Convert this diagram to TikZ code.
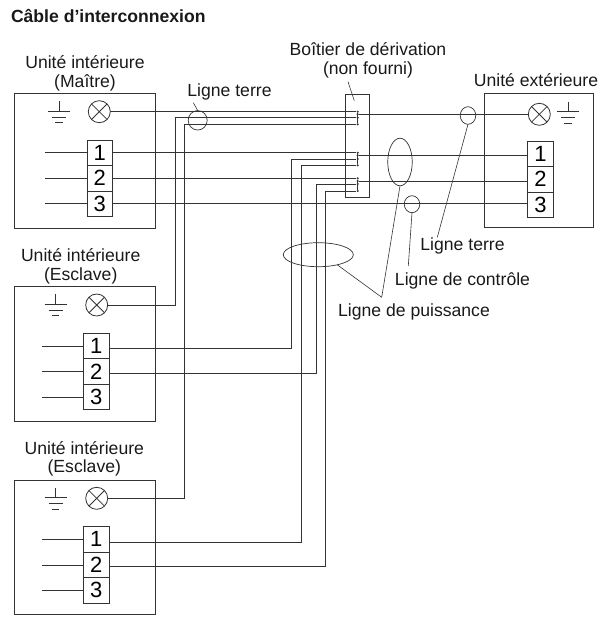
\documentclass[tikz,border=0pt]{standalone}
\usepackage{fontspec}
\setmainfont{Liberation Sans}
\usetikzlibrary{positioning,shapes.geometric}
\definecolor{wirecol}{gray}{0.2}
\tikzset{x=1pt,y=-1pt,
wire/.style={draw=wirecol,line width=0.8pt},
leader/.style={draw=wirecol,line width=0.6pt},
lbl/.style={font=\fontsize{17.6}{18.5}\selectfont,inner sep=0pt,outer sep=0pt,text=black!90,align=center,anchor=base},
unitbox/.style={draw=wirecol,line width=0.9pt,anchor=north west,inner sep=0pt,outer sep=0pt},
terminal/.style={draw=wirecol,line width=0.9pt,font=\fontsize{22}{22}\selectfont,inner sep=0pt,outer sep=0pt,minimum width=25.5pt,minimum height=25.5pt},
lamp/.style={circle,draw=wirecol,line width=0.8pt,minimum size=22pt,inner sep=0pt,outer sep=0pt,
  path picture={\draw[wirecol,line width=0.8pt] (path picture bounding box.north west) -- (path picture bounding box.south east)
    (path picture bounding box.north east) -- (path picture bounding box.south west);}},
ring/.style={ellipse,draw=wirecol,line width=0.7pt,inner sep=0pt,outer sep=0pt},
dot/.style={circle,fill=wirecol,inner sep=0pt,minimum size=2.4pt},
earth/.pic={\draw[wirecol,line width=0.8pt] (0,-10) -- (0,0) (-11,0) -- (11,0) (-7,6) -- (7,6) (-3.7,11.5) -- (3.7,11.5);}
}
\begin{document}
\begin{tikzpicture}
    \useasboundingbox (0,0) rectangle (601,618);
    \node[lbl,anchor=base west] (title) at (11,23) {\bfseries Câble d’interconnexion};

    % unit boxes
    \node[unitbox,minimum width=141pt,minimum height=135pt] (master) at (14,93) {};
    \node[unitbox,minimum width=141pt,minimum height=134.5pt] (slaveA) at (14,286.7) {};
    \node[unitbox,minimum width=141pt,minimum height=134.5pt] (slaveB) at (14,480) {};
    \node[unitbox,minimum width=109.7pt,minimum height=134.5pt] (outdoor) at (484,93.3) {};
    \node[unitbox,minimum width=23.6pt,minimum height=103.4pt] (jbox) at (345.7,94.3) {};

    \node[lbl] (masterlbl) at (85,87) {Unité intérieure\\(Maître)};
    \node[lbl] (slaveAlbl) at (80.7,280) {Unité intérieure\\(Esclave)};
    \node[lbl] (slaveBlbl) at (84.3,472.7) {Unité intérieure\\(Esclave)};
    \node[lbl] (outdoorlbl) at (536,86.7) {Unité extérieure};
    \node[lbl] (jboxlbl) at (368,74.3) {Boîtier de dérivation\\(non fourni)};

    % lamps and earth marks
    \node[lamp] (mlamp) at (99.3,111.7) {};
    \node[lamp] (alamp) at (96.7,305) {};
    \node[lamp] (blamp) at (96.7,498.3) {};
    \node[lamp] (elamp) at (539.3,114.3) {};
    \pic at (59,111) {earth};
    \pic at (55.7,304) {earth};
    \pic at (55.7,497.5) {earth};
    \pic at (568,111.7) {earth};

    % terminal strips
    \node[terminal] (mt1) at (99.7,152.8) {1};
    \node[terminal,below=0pt of mt1] (mt2) {2};
    \node[terminal,below=0pt of mt2] (mt3) {3};
    \node[terminal] (at1) at (96.2,346) {1};
    \node[terminal,below=0pt of at1] (at2) {2};
    \node[terminal,below=0pt of at2] (at3) {3};
    \node[terminal] (bt1) at (96.2,539.4) {1};
    \node[terminal,below=0pt of bt1] (bt2) {2};
    \node[terminal,below=0pt of bt2] (bt3) {3};
    \node[terminal] (et1) at (540.5,153.7) {1};
    \node[terminal,below=0pt of et1] (et2) {2};
    \node[terminal,below=0pt of et2] (et3) {3};

    % free ends inside the units
    \coordinate[left=42pt of mt1.west] (mw1);
    \coordinate[left=42pt of mt2.west] (mw2);
    \coordinate[left=42pt of mt3.west] (mw3);
    \coordinate[left=41pt of at1.west] (aw1);
    \coordinate[left=41pt of at2.west] (aw2);
    \coordinate[left=41pt of at3.west] (aw3);
    \coordinate[left=41pt of bt1.west] (bw1);
    \coordinate[left=41pt of bt2.west] (bw2);
    \coordinate[left=41pt of bt3.west] (bw3);
    \draw[wire] (mw1) -- (mt1.west) (mw2) -- (mt2.west) (mw3) -- (mt3.west)
                (aw1) -- (at1.west) (aw2) -- (at2.west) (aw3) -- (at3.west)
                (bw1) -- (bt1.west) (bw2) -- (bt2.west) (bw3) -- (bt3.west);

    % junction points in the box
    \node[dot] (j11) at (357.7,111.7) {};
    \node[dot] (j12) at (357.7,114.3) {};
    \node[dot] (j13) at (357.7,117.7) {};
    \node[dot] (j14) at (357.7,124.3) {};
    \node[dot] (j21) at (357.7,152.8) {};
    \node[dot] (j22) at (357.7,155.3) {};
    \node[dot] (j23) at (357.7,159) {};
    \node[dot] (j24) at (357.7,165.3) {};
    \node[dot] (j31) at (357.7,178.3) {};
    \node[dot] (j32) at (357.7,181) {};
    \node[dot] (j33) at (357.7,184) {};
    \node[dot] (j34) at (357.7,191) {};
    \draw[wire,line width=1.2pt] (j11) -- (j14) (j21) -- (j24) (j31) -- (j34);

    % bends of the wires
    \coordinate (c1) at (175,117.7);
    \coordinate (c2) at (184,124.3);
    \coordinate (c3) at (291.7,159);
    \coordinate (c4) at (301.7,165.3);
    \coordinate (c5) at (316,184);
    \coordinate (c6) at (325.7,191);

    \draw[wire] (mlamp.east) -- (j11)
                (alamp.east) -| (c1) -- (j13)
                (blamp.east) -| (c2) -- (j14)
                (mt1.east) -- (j21)
                (mt2.east) -- (j31)
                (mt3.east) -- (mt3.east -| et3.west)
                ([yshift=-2pt]at1.east) -| (c3) -- (j23)
                ([yshift=-2pt]at2.east) -| (c5) -- (j33)
                ([yshift=-2.6pt]bt1.east) -| (c4) -- (j24)
                ([yshift=-1.7pt]bt2.east) -| (c6) -- (j34)
                (j12) -- (elamp.west)
                (j22) -- (j22 -| et1.west)
                (j32) -- (j32 -| et2.west);

    % rings round the lines
    \node[ring,minimum width=19pt,minimum height=19.5pt] (earthring) at (197.7,120.3) {};
    \node[ring,minimum width=15.5pt,minimum height=17.6pt] (earthringr) at (468,115.5) {};
    \node[ring,minimum width=24.5pt,minimum height=47.6pt] (powerring) at (400,162) {};
    \node[ring,minimum width=15.5pt,minimum height=17pt] (ctrlring) at (412,204.2) {};
    \node[ring,minimum width=70pt,minimum height=24pt] (powerringb) at (318.3,254.7) {};

    \node[lbl] (earthlbl) at (229.5,96.7) {Ligne terre};
    \node[lbl] (earthlblr) at (462.5,250) {Ligne terre};
    \node[lbl] (ctrllbl) at (462.5,285) {Ligne de contrôle};
    \node[lbl] (powerlbl) at (414,316) {Ligne de puissance};

    % leaders
    \coordinate (e1) at (193.3,102.7);
    \coordinate (e2) at (348,81.7);
    \coordinate (e3) at (354.3,100.7);
    \coordinate (e4) at (437.3,237.3);
    \coordinate (e5) at (408.3,266);
    \coordinate (e6) at (381.7,297.3);
    \draw[leader] (e1) -- (earthring.north)
                  (e2) -- (e3)
                  (earthringr.south) -- (e4)
                  (ctrlring.south) -- (e5)
                  (powerring.south) -- (e6)
                  (powerringb.-28) -- (e6);
\end{tikzpicture}
\end{document}
